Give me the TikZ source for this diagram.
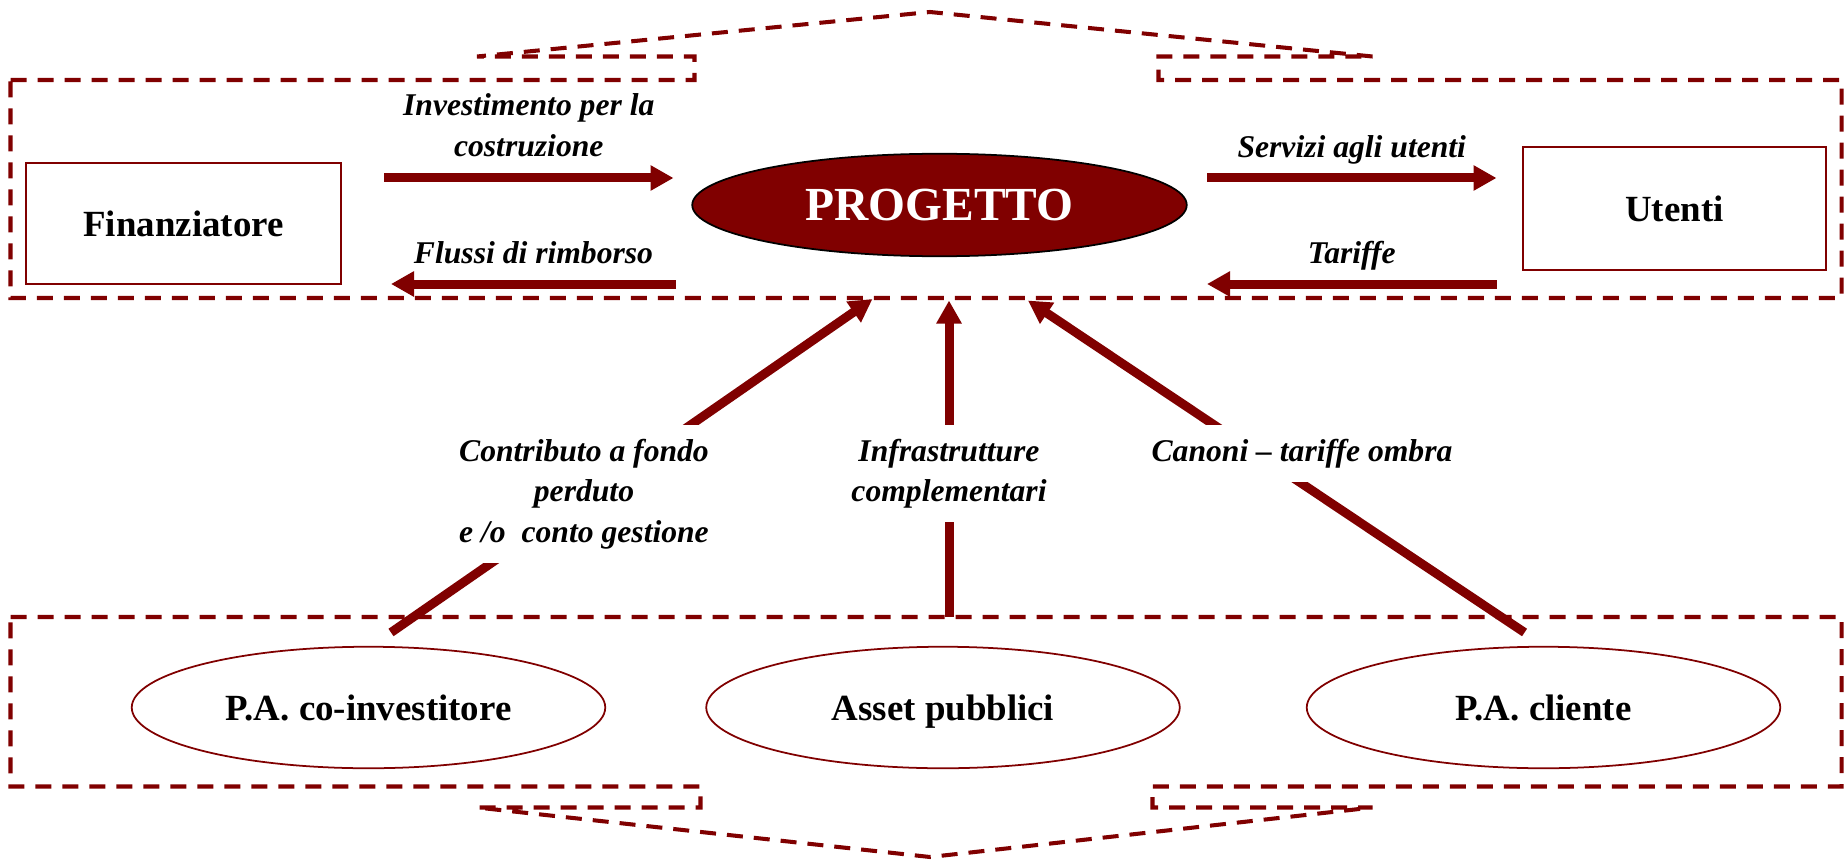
\documentclass[tikz,border=0pt]{standalone}
\usepackage{fontspec}
\setmainfont{Liberation Serif}
\usetikzlibrary{arrows.meta,shapes.geometric}
\definecolor{bordeaux}{RGB}{128,0,0}

\begin{document}
\begin{tikzpicture}[
        frame/.style={draw=bordeaux, line width=2.3pt, dash pattern=on 0.32cm off 0.22cm},
        flow/.style={draw=bordeaux, line width=0.18cm, -{Triangle[length=0.46cm,width=0.48cm]}},
        actor/.style={draw=bordeaux, line width=1pt, font=\bfseries\fontsize{21}{25}\selectfont, text height=0.52cm, text depth=0pt},
        lab/.style={font=\bfseries\itshape\fontsize{18}{23}\selectfont, align=center, inner sep=0pt},
        gaplab/.style={lab, fill=white, inner xsep=3pt, inner ysep=0.28cm}]
        \useasboundingbox (0,0) rectangle (36.92,17.19);
        % cornici
        \draw[frame] (0.21,15.59) -- (13.89,15.59) -- (13.89,16.06) -- (9.54,16.06) -- (18.60,16.95) -- (27.45,16.06) -- (23.17,16.06) -- (23.17,15.59) -- (36.83,15.59) -- (36.83,11.23) -- (0.21,11.23) -- cycle;
        \draw[frame] (0.21,4.85) -- (36.83,4.85) -- (36.83,1.46) -- (23.05,1.46) -- (23.05,1.04) -- (27.45,1.04) -- (18.60,0.05) -- (9.54,1.04) -- (14.01,1.04) -- (14.01,1.46) -- (0.21,1.46) -- cycle;
        % soggetti
        \node[actor, rectangle, minimum width=6.31cm, minimum height=2.43cm] (fin) at (3.67,12.72) {Finanziatore};
        \node[actor, rectangle, minimum width=6.05cm, minimum height=2.45cm] (ute) at (33.49,13.02) {Utenti};
        \node[ellipse, draw=black, line width=1pt, fill=bordeaux, text=white, font=\bfseries\fontsize{27}{31}\selectfont, minimum width=9.89cm, minimum height=2.05cm] (prog) at (18.79,13.09) {PROGETTO};
        \node[actor, ellipse, minimum width=9.47cm, minimum height=2.43cm] (pacoinv) at (7.37,3.04) {P.A. co-investitore};
        \node[actor, ellipse, minimum width=9.47cm, minimum height=2.43cm] (asset) at (18.86,3.04) {Asset pubblici};
        \node[actor, ellipse, minimum width=9.47cm, minimum height=2.43cm] (pacli) at (30.87,3.04) {P.A. cliente};
        % estremi dei flussi
        \coordinate (invA) at (7.68,13.63);   \coordinate (invB) at (13.47,13.63);
        \coordinate (fluA) at (13.52,11.51);  \coordinate (fluB) at (7.82,11.51);
        \coordinate (serA) at (24.14,13.63);  \coordinate (serB) at (29.93,13.63);
        \coordinate (tarA) at (29.93,11.51);  \coordinate (tarB) at (24.14,11.51);
        \coordinate (contA) at (7.82,4.54);   \coordinate (contB) at (17.45,11.21);
        \coordinate (infA) at (18.98,4.85);   \coordinate (infB) at (18.98,11.18);
        \coordinate (canA) at (30.49,4.54);   \coordinate (canB) at (20.56,11.18);
        % flussi orizzontali
        \draw[flow] (invA) -- (invB) node[lab, midway, anchor=south, yshift=0.34cm] {Investimento per la\\costruzione};
        \draw[flow] (fluA) -- (fluB) node[lab, midway, anchor=base, yshift=0.42cm] {Flussi di rimborso};
        \draw[flow] (serA) -- (serB) node[lab, midway, anchor=base, yshift=0.40cm] {Servizi agli utenti};
        \draw[flow] (tarA) -- (tarB) node[lab, midway, anchor=base, yshift=0.42cm] {Tariffe};
        % flussi dalla P.A.
        \draw[flow] (contA) -- (contB);
        \draw[flow] (infA) -- (infB);
        \draw[flow] (canA) -- (canB);
        \node[gaplab] (contlab) at (11.68,7.31) {Contributo a fondo\\perduto\\e /o\ \ conto gestione};
        \node[gaplab] (inflab) at (18.98,7.72) {Infrastrutture\\complementari};
        \node[gaplab] (canlab) at (26.04,8.12) {Canoni – tariffe ombra};
    \end{tikzpicture}
\end{document}
